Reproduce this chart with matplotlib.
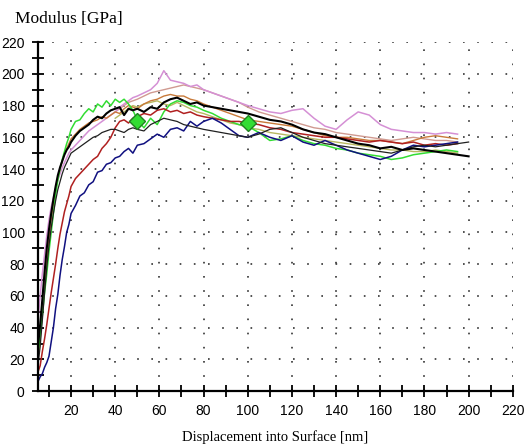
import numpy as np
import matplotlib
matplotlib.use("Agg")
import matplotlib.pyplot as plt
from matplotlib.ticker import MultipleLocator

nan = np.nan

# displacement grid [nm] shared by all curves
disp = [5, 6, 7, 8, 9, 10, 11, 12, 13, 14, 15, 16, 17, 18, 19, 20,
        22, 24, 26, 28, 30, 32, 34, 36, 38, 40, 42, 44, 46, 48, 50,
        53, 56, 59, 62, 65, 68, 71, 74, 77, 80,
        84, 88, 92, 96, 100,
        105, 110, 115, 120, 125, 130, 135, 140, 145, 150,
        155, 160, 165, 170, 175, 180, 185, 190, 195, 200]

# modulus [GPa] per indent
mod_blue = [6, 9, 11, 15, 18, 22, 31, 40, 52, 61, 73, 83, 91, 100, 105, 112,
            117, 123, 125, 130, 132, 138, 139, 143, 144, 147, 148, 151, 153, 150, 155,
            156, 159, 162, 160, 165, 166, 164, 170, 167, 170,
            172, 169, 165, 161, 160,
            163, 160, 158, 161, 157, 155, 158, 155, 152, 150,
            148, 146, 148, 152, 155, 154, 155, 156, 157, nan]
mod_red = [12, 16, 25, 33, 42, 52, 62, 71, 80, 90, 99, 106, 113, 118, 123, 129,
           134, 137, 140, 143, 146, 148, 153, 156, 160, 166, 170, 171, 169, 172, 173,
           175, 174, 177, 178, 176, 177, 175, 176, 174, 173,
           172, 171, 170, 170, 169,
           168, 166, 165, 163, 162, 161, 160, 160, 159, 158,
           157, 158, 157, 156, 157, 155, 156, 155, 156, nan]
mod_green = [22, 35, 48, 62, 74, 88, 100, 112, 124, 133, 140, 146, 151, 156, 160, 165,
             170, 171, 175, 178, 176, 181, 179, 183, 180, 184, 182, 184, 181, 177, 171,
             166, 172, 168, 176, 181, 183, 182, 180, 179, 177,
             175, 172, 170, 168, 167,
             163, 158, 159, 161, 158, 156, 155, 153, 152, 150,
             149, 148, 146, 147, 149, 150, 151, 152, 151, nan]
mod_black = [28, 42, 58, 75, 90, 102, 112, 121, 129, 136, 141, 145, 149, 152, 154, 157,
             161, 164, 166, 168, 171, 173, 172, 175, 177, 178, 179, 174, 178, 177, 178,
             176, 179, 178, 182, 184, 185, 183, 181, 182, 180,
             179, 178, 177, 176, 175,
             173, 171, 170, 168, 165, 163, 162, 160, 158, 156,
             155, 153, 154, 152, 153, 152, 151, 150, 149, 148]
mod_black2 = [16, 28, 45, 62, 78, 92, 103, 112, 120, 127, 132, 137, 141, 144, 147, 150,
              152, 154, 156, 158, 160, 161, 163, 164, 165, 165, 164, 163, 165, 166, 165,
              164, 168, 170, 172, 171, 170, 168, 167, 166, 165,
              164, 163, 162, 161, 160,
              162, 165, 166, 163, 160, 158, 156, 155, 154, 153,
              152, 151, 150, 152, 154, 155, 154, 155, 156, 157]
mod_orange = [20, 32, 50, 66, 82, 96, 108, 118, 126, 134, 140, 145, 150, 153, 156, 159,
              162, 165, 167, 169, 170, 171, 173, 172, 174, 176, 175, 178, 180, 179, 178,
              181, 183, 184, 186, 187, 186, 186, 184, 183, 181,
              179, 177, 175, 173, 171,
              170, 169, 168, 167, 165, 163, 161, 160, 160, 159,
              158, 158, 157, 156, 158, 160, 161, 160, 159, nan]
mod_violet = [45, 60, 74, 86, 98, 108, 116, 122, 128, 133, 137, 141, 144, 147, 150, 152,
              155, 158, 161, 164, 166, 168, 170, 172, 174, 176, 179, 181, 183, 185, 186,
              188, 190, 194, 202, 196, 195, 194, 192, 193, 190,
              188, 186, 184, 182, 180,
              178, 176, 175, 177, 178, 172, 167, 165, 171, 176,
              174, 168, 165, 164, 163, 163, 162, 163, 162, nan]
mod_salmon = [nan] * 25 + [176, 178, 180, 182, 183, 184,
              186, 188, 189, 190, 191, 192, 193, 192, 191, 190,
              188, 186, 184, 182, 179,
              176, 174, 172, 170, 168, 166, 165, 163, 162, 161,
              160, 159, 158, 159, 160, 159, 158, 158, 157, nan]
mod_olive = [nan] * 25 + [172, 174, 176, 178, 180, 179,
             181, 182, 183, 181, 180, 182, 180, 178, 176, 175,
             173, 171, 169, 168, 166,
             165, 163, 162, 161, 160, 159, 158, 157, 156, 155,
             154, 153, 152, 152, 151, 151, 152, 151, 150, nan]

# green diamond markers
marker_x = [50, 100]
marker_y = [170, 169]

fig = plt.figure(figsize=(5.27, 4.48), dpi=100)
ax = fig.add_axes([0.072, 0.127, 0.901, 0.779])

curves = [
    (mod_olive, "#b8b860", 1.0),
    (mod_salmon, "#d09a90", 1.0),
    (mod_violet, "#d590d5", 1.1),
    (mod_orange, "#c87a3a", 1.0),
    (mod_green, "#33dd33", 1.1),
    (mod_red, "#b02020", 1.1),
    (mod_blue, "#101080", 1.1),
    (mod_black2, "#202020", 0.9),
    (mod_black, "#000000", 1.5),
]
for y, color, lw in curves:
    ax.plot(disp, y, color=color, lw=lw)

ax.plot(marker_x, marker_y, linestyle="none", marker="D", markersize=8,
        markerfacecolor="#33dd33", markeredgecolor="#208020", zorder=5)

ax.set_xlim(5, 220)
ax.set_ylim(0, 220)
ax.xaxis.set_major_locator(MultipleLocator(20))
ax.xaxis.set_minor_locator(MultipleLocator(10))
ax.yaxis.set_major_locator(MultipleLocator(20))
ax.yaxis.set_minor_locator(MultipleLocator(10))
ax.set_xticks(np.arange(20, 221, 20))

ax.grid(True, which="major", color="#333333", linestyle=(0, (1, 7.5)), linewidth=1.2)

for side in ["top", "right"]:
    ax.spines[side].set_visible(False)
for side in ["left", "bottom"]:
    ax.spines[side].set_linewidth(1.6)

ax.tick_params(which="major", direction="inout", length=9, width=1.3,
               labelsize=10, pad=5)
ax.tick_params(which="minor", direction="inout", length=8, width=1.3)
for lab in ax.get_xticklabels() + ax.get_yticklabels():
    lab.set_family("Liberation Sans")

fig.text(0.028, 0.958, "Modulus [GPa]", family="Liberation Serif", fontsize=12.5,
         va="center", ha="left")
fig.text(0.522, 0.025, "Displacement into Surface [nm]", family="Liberation Serif",
         fontsize=10.5, va="center", ha="center")

fig.savefig("out.png", dpi=100)
